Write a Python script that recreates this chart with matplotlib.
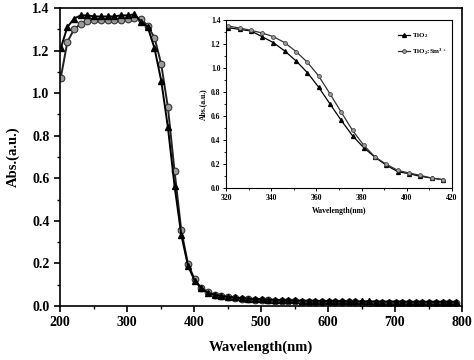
import matplotlib
matplotlib.use("Agg")
import matplotlib.pyplot as plt
from matplotlib.ticker import MultipleLocator
import numpy as np

plt.rcParams.update({
    "font.family": ["Liberation Serif", "DejaVu Serif"],
    "font.weight": "bold",
    "mathtext.default": "regular",
    "axes.linewidth": 1.2,
    "xtick.direction": "out",
    "ytick.direction": "out",
})

# main spectrum, every 10 nm from 201 to 791
wl = np.arange(201, 800, 10)
abs_tio2 = [1.21, 1.31, 1.35, 1.365, 1.365, 1.36, 1.36, 1.36, 1.36, 1.365,
            1.365, 1.37, 1.336, 1.309, 1.211, 1.059, 0.84, 0.563, 0.335, 0.189,
            0.119, 0.083, 0.062, 0.053, 0.047, 0.043, 0.040, 0.037, 0.035, 0.033,
            0.031, 0.030, 0.029, 0.028, 0.027, 0.026, 0.025, 0.025, 0.024, 0.024,
            0.023, 0.023, 0.023, 0.022, 0.022, 0.022, 0.022, 0.021, 0.021, 0.021,
            0.021, 0.021, 0.020, 0.020, 0.020, 0.020, 0.020, 0.020, 0.020, 0.020]
abs_sm = [1.07, 1.24, 1.30, 1.325, 1.34, 1.345, 1.345, 1.345, 1.345, 1.345,
          1.35, 1.355, 1.35, 1.314, 1.261, 1.137, 0.934, 0.632, 0.355, 0.197,
          0.125, 0.083, 0.064, 0.052, 0.046, 0.042, 0.038, 0.035, 0.032, 0.030,
          0.028, 0.026, 0.025, 0.024, 0.023, 0.022, 0.021, 0.020, 0.019, 0.019,
          0.018, 0.018, 0.017, 0.017, 0.017, 0.016, 0.016, 0.016, 0.016, 0.015,
          0.015, 0.015, 0.015, 0.015, 0.015, 0.015, 0.015, 0.015, 0.015, 0.015]

# inset, every 5 nm from 321 to 416
wl_in = np.arange(321, 420, 5)
in_tio2 = [1.336, 1.322, 1.309, 1.261, 1.211, 1.142, 1.059, 0.962, 0.840, 0.701,
           0.563, 0.435, 0.335, 0.255, 0.189, 0.136, 0.119, 0.097, 0.083, 0.069]
in_sm = [1.350, 1.333, 1.314, 1.292, 1.261, 1.211, 1.137, 1.048, 0.934, 0.785,
         0.632, 0.480, 0.355, 0.258, 0.197, 0.147, 0.125, 0.105, 0.083, 0.069]

fig = plt.figure(figsize=(4.74, 3.6), dpi=100)
ax = fig.add_axes([0.1266, 0.15, 0.8481, 0.828])

ax.plot(wl, abs_sm, color="#222222", lw=1.4, marker="o", ms=4.8,
        mfc="#9a9a9a", mec="#333333", mew=0.8)
ax.plot(wl, abs_tio2, color="black", lw=1.4, marker="^", ms=5,
        mfc="black", mec="black")

ax.set_xlim(200, 800)
ax.set_ylim(0, 1.4)
ax.xaxis.set_major_locator(MultipleLocator(100))
ax.xaxis.set_minor_locator(MultipleLocator(50))
ax.yaxis.set_major_locator(MultipleLocator(0.2))
ax.yaxis.set_minor_locator(MultipleLocator(0.1))
ax.yaxis.set_major_formatter(plt.FormatStrFormatter("%.1f"))
ax.tick_params(which="major", length=4, width=1.2, labelsize=10)
ax.tick_params(which="minor", length=2.5, width=1.0)
ax.set_xlabel("Wavelength(nm)", fontsize=10.5, fontweight="bold", labelpad=8)
ax.set_ylabel("Abs.(a.u.)", fontsize=10.5, fontweight="bold", labelpad=9)

# inset zoom on the absorption edge
ins = fig.add_axes([0.4768, 0.4778, 0.4768, 0.4666])
ins.plot(wl_in, in_tio2, color="black", lw=0.9, marker="^", ms=2.8,
         mfc="black", mec="black", label="TiO$_2$")
ins.plot(wl_in, in_sm, color="#333333", lw=0.9, marker="o", ms=2.8,
         mfc="#9a9a9a", mec="#333333", mew=0.5, label="TiO$_2$:Sm$^{3+}$")
ins.set_xlim(320, 420)
ins.set_ylim(0, 1.4)
for s in ins.spines.values():
    s.set_linewidth(0.8)
ins.xaxis.set_major_locator(MultipleLocator(20))
ins.xaxis.set_minor_locator(MultipleLocator(10))
ins.yaxis.set_major_locator(MultipleLocator(0.2))
ins.yaxis.set_minor_locator(MultipleLocator(0.1))
ins.yaxis.set_major_formatter(plt.FormatStrFormatter("%.1f"))
ins.tick_params(which="major", length=2.5, width=0.7, labelsize=5.5, pad=1.5)
ins.tick_params(which="minor", length=1.5, width=0.6)
ins.set_xlabel("Wavelength(nm)", fontsize=5.5, fontweight="bold", labelpad=4)
ins.set_ylabel("Abs.(a.u.)", fontsize=5.5, fontweight="bold", labelpad=3)
ins.legend(loc="upper right", bbox_to_anchor=(1.0, 0.96), frameon=False,
           fontsize=5, handlelength=1.8, handletextpad=0.3,
           borderaxespad=0.3, labelspacing=0.9)

fig.savefig("out.png", dpi=100)
